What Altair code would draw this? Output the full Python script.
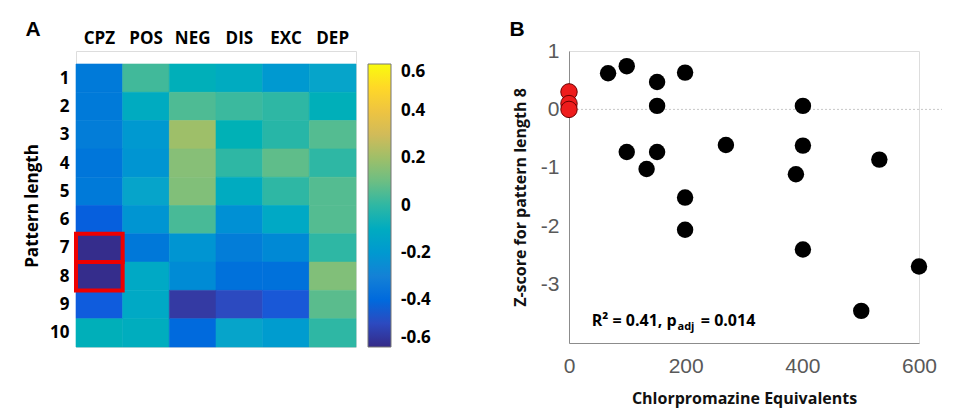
import altair as alt
import pandas as pd

# ---------------- Panel A data ----------------
scales_cols = ["CPZ", "POS", "NEG", "DIS", "EXC", "DEP"]
pattern_rows = [1, 2, 3, 4, 5, 6, 7, 8, 9, 10]
cpz = [-0.33, -0.33, -0.32, -0.35, -0.33, -0.44, -0.59, -0.59, -0.45, -0.07]
pos = [0.03, -0.10, -0.20, -0.22, -0.15, -0.22, -0.34, -0.12, -0.12, -0.09]
neg = [-0.07, 0.05, 0.20, 0.15, 0.14, 0.04, -0.22, -0.26, -0.55, -0.40]
dis = [-0.10, 0.02, -0.06, 0.00, -0.10, -0.24, -0.32, -0.37, -0.50, -0.15]
exc = [-0.20, 0.00, -0.01, 0.08, 0.00, -0.12, -0.27, -0.37, -0.46, -0.19]
dep = [-0.15, -0.07, 0.06, 0.00, 0.06, 0.06, 0.00, 0.14, 0.07, 0.00]
highlight_rows = [7, 8]
colorbar_ticks = [-0.6, -0.4, -0.2, 0.0, 0.2, 0.4, 0.6]
parula = ["#352a87", "#0f5cdd", "#1481d6", "#06a4ca", "#2eb7a4",
          "#87bf77", "#d1bb59", "#fec832", "#f9fb0e"]
parula_stops = [-0.6, -0.45, -0.3, -0.15, 0.0, 0.15, 0.3, 0.45, 0.6]

# ---------------- Panel B data ----------------
cpz_equiv = [67, 99, 151, 199, 151, 401, 99, 151, 133, 269, 401, 532, 389, 199, 199, 401, 600, 501]
zscore = [0.62, 0.74, 0.47, 0.63, 0.06, 0.06, -0.73, -0.73, -1.02, -0.61, -0.62, -0.86,
          -1.11, -1.51, -2.06, -2.40, -2.69, -3.45]
ctrl_x = [0, 0, 0]
ctrl_z = [0.30, 0.10, 0.0]
x_ticks = [0, 200, 400, 600]
y_ticks = [-3, -2, -1, 0, 1]

series = {"CPZ": cpz, "POS": pos, "NEG": neg, "DIS": dis, "EXC": exc, "DEP": dep}
heat_df = pd.DataFrame(
    [{"col": c, "row": r, "value": series[c][i]} for c in scales_cols for i, r in enumerate(pattern_rows)]
)
box_df = pd.DataFrame({"col": ["CPZ"] * len(highlight_rows), "row": highlight_rows})
pts_df = pd.DataFrame({"x": cpz_equiv, "z": zscore})
ctrl_df = pd.DataFrame({"x": ctrl_x, "z": ctrl_z})

BOLD = "Open Sans"
HW, HH = 280, 296
HYPHEN = "datum.value < 0 ? '-' + abs(datum.value) : '' + datum.value"

xaxis_h = alt.Axis(orient="top", title=None, labelAngle=0, ticks=False, domain=False,
                   labelFont=BOLD, labelFontWeight="bold", labelFontSize=17,
                   labelColor="#000", labelPadding=4)
yaxis_h = alt.Axis(values=pattern_rows, format="d", ticks=False, domain=False, grid=False,
                   labelOverlap=False, labelBound=False,
                   labelFont=BOLD, labelFontWeight="bold", labelFontSize=17, labelColor="#000",
                   labelPadding=7, title="Pattern length", titleFont=BOLD,
                   titleFontWeight="bold", titleFontSize=17, titleColor="#000",
                   titlePadding=8)
yscale = alt.Scale(domain=[0.5, 10.5], range=[13, HH], nice=False, zero=False)
xscale_h = alt.Scale(paddingInner=0, paddingOuter=0)
cscale = alt.Scale(domain=parula_stops, range=parula)

cells = alt.Chart(heat_df).transform_calculate(
    y1="datum.row - 0.5", y2="datum.row + 0.5"
).mark_rect(strokeWidth=0.6).encode(
    x=alt.X("col:N", sort=scales_cols, scale=xscale_h, axis=xaxis_h),
    y=alt.Y("y1:Q", scale=yscale, axis=yaxis_h),
    y2="y2:Q",
    stroke=alt.Color("value:Q", scale=cscale, legend=None),
    color=alt.Color("value:Q", scale=cscale,
                    legend=alt.Legend(orient="none", legendX=HW + 12, legendY=13,
                                      direction="vertical", title=None,
                                      gradientLength=283, gradientThickness=23,
                                      gradientStrokeColor="#777", gradientStrokeWidth=1,
                                      values=colorbar_ticks, labelFont=BOLD,
                                      labelFontWeight="bold", labelFontSize=17,
                                      labelColor="#000", labelOffset=10,
                                      labelBaseline="middle",
                                      labelExpr="datum.value == 0 ? '0' : (datum.value < 0 ? '-' : '') + format(abs(datum.value), '.1f')")),
)

boxes = alt.Chart(box_df).transform_calculate(
    y1="datum.row - 0.5", y2="datum.row + 0.5"
).mark_rect(fillOpacity=0, stroke="#ee0000", strokeWidth=4).encode(
    x=alt.X("col:N", sort=scales_cols, scale=xscale_h, axis=xaxis_h),
    y=alt.Y("y1:Q", scale=yscale, axis=yaxis_h),
    y2="y2:Q"
)

label_a = alt.Chart(pd.DataFrame({"t": ["A"]})).mark_text(
    font="Liberation Sans", fontWeight="bold", fontSize=21, color="#000"
).encode(x=alt.value(-43), y=alt.value(-21), text="t:N")

heat = alt.layer(cells, boxes, label_a).properties(width=HW, height=HH)

# ---------------- Panel B ----------------
SW, SH = 350, 292
xs = alt.Scale(domain=[0, 600], nice=False, zero=False)
ys = alt.Scale(domain=[-4, 1], nice=False, zero=False)
tick_font = dict(labelFont="Liberation Sans", labelFontSize=21, labelColor="#595959",
                 labelFlush=False, labelExpr=HYPHEN)

zero_line = alt.Chart(pd.DataFrame({"z": [0]})).mark_rule(
    color="#c8c8c8", strokeDash=[2, 2], strokeWidth=1
).encode(y=alt.Y("z:Q", scale=ys), x=alt.value(0), x2=alt.value(SW + 23))

pts = alt.Chart(pts_df).mark_circle(size=270, color="#000", opacity=1).encode(
    x=alt.X("x:Q", scale=xs,
            axis=alt.Axis(values=x_ticks, grid=False, ticks=False, domainColor="#8c8c8c",
                          labelPadding=12, title="Chlorpromazine Equivalents",
                          titleFont=BOLD, titleFontWeight="bold", titleFontSize=16,
                          titleColor="#111", titlePadding=14, **tick_font)),
    y=alt.Y("z:Q", scale=ys,
            axis=alt.Axis(values=y_ticks, grid=False, ticks=False, domainColor="#8c8c8c",
                          labelPadding=10, title="Z-score for pattern length 8",
                          titleFont=BOLD, titleFontWeight="bold", titleFontSize=16,
                          titleColor="#111", titlePadding=12, **tick_font)),
)

ctrl = alt.Chart(ctrl_df).mark_point(
    filled=True, size=270, fill="#ee1c1c", stroke="#6a0000", strokeWidth=1, opacity=1
).encode(x=alt.X("x:Q", scale=xs), y=alt.Y("z:Q", scale=ys))

ann_df = pd.DataFrame({
    "x": [39, 186, 226],
    "z": [-3.62, -3.62, -3.62],
    "t": ["R\u00b2 = 0.41, p", "adj", "= 0.014"],
})
ann_main = alt.Chart(ann_df.iloc[[0, 2]]).mark_text(
    align="left", baseline="middle", font=BOLD, fontWeight="bold", fontSize=16, color="#000"
).encode(x=alt.X("x:Q", scale=xs), y=alt.Y("z:Q", scale=ys), text="t:N")
ann_sub = alt.Chart(ann_df.iloc[[1]]).mark_text(
    align="left", baseline="middle", font=BOLD, fontWeight="bold", fontSize=11, dy=6, color="#000"
).encode(x=alt.X("x:Q", scale=xs), y=alt.Y("z:Q", scale=ys), text="t:N")

label_b = alt.Chart(pd.DataFrame({"t": ["B"]})).mark_text(
    font="Liberation Sans", fontWeight="bold", fontSize=21, color="#000"
).encode(x=alt.value(-52), y=alt.value(-21), text="t:N")

scatter = alt.layer(zero_line, pts, ctrl, ann_main, ann_sub, label_b).properties(width=SW, height=SH)

chart = alt.hconcat(heat, scatter, spacing=213, bounds="flush").resolve_scale(
    color="independent"
).properties(
    padding={"left": 15, "top": 10, "right": 5, "bottom": 5}
).configure_view(stroke=None).configure_axis(labelOverlap=False).configure(background="white")

chart.save("out.html", embed_options={"renderer": "svg", "actions": False})
